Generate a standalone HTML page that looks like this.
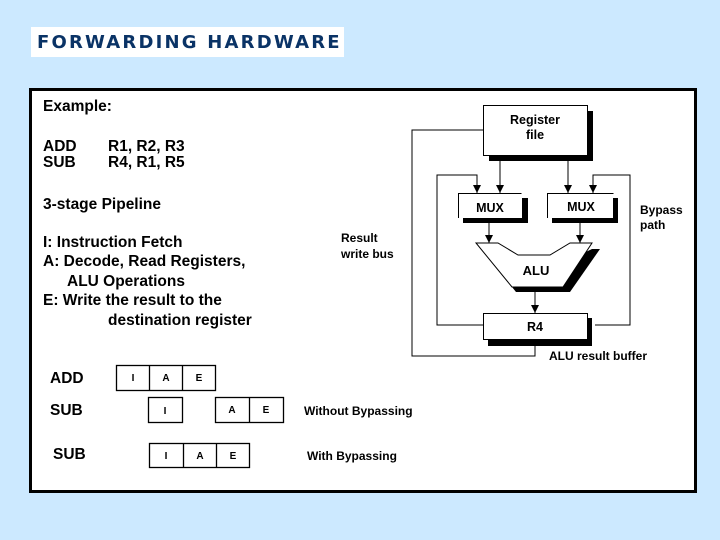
<!DOCTYPE html>
<html><head><style>
body{margin:0;width:720px;height:540px;background:#cce9ff;overflow:hidden;font-family:"Liberation Sans",Arial,sans-serif}
.title{position:absolute;left:31px;top:27px;width:313px;height:30px;background:#fff;font-family:"DejaVu Sans",sans-serif;font-weight:bold;font-size:18px;color:#0a3366;line-height:31px;padding-left:6px;box-sizing:border-box;letter-spacing:2.2px;white-space:nowrap}
</style></head><body>
<div class="title">FORWARDING HARDWARE</div>
<svg width="720" height="540" style="position:absolute;left:0;top:0" font-family="Liberation Sans, Arial, sans-serif">
<defs><marker id="a" markerWidth="8" markerHeight="8" refX="8" refY="4" orient="auto" markerUnits="userSpaceOnUse"><path d="M0,0 L8,4 L0,8 z" fill="#000"/></marker></defs>
<rect x="30.5" y="89.5" width="665" height="402" fill="#fff" stroke="#000" stroke-width="3"/>
<g font-weight="bold" font-size="15.5" fill="#000">
<text x="43" y="111">Example:</text>
<text x="43" y="151">ADD</text><text x="108" y="151">R1, R2, R3</text>
<text x="43" y="167">SUB</text><text x="108" y="167">R4, R1, R5</text>
<text x="43" y="209">3-stage Pipeline</text>
<text x="43" y="247">I:  Instruction Fetch</text>
<text x="43" y="266">A: Decode, Read Registers,</text>
<text x="67" y="286">ALU Operations</text>
<text x="43" y="305">E: Write the result to the</text>
<text x="108" y="325">destination register</text>
<text x="50" y="383">ADD</text><text x="50" y="415">SUB</text><text x="53" y="459">SUB</text>
</g>
<g font-weight="bold" font-size="12" fill="#000">
<text x="341" y="242">Result</text><text x="341" y="258">write bus</text>
<text x="640" y="214">Bypass</text><text x="640" y="229">path</text>
<text x="549" y="360">ALU result buffer</text>
<text x="304" y="415">Without Bypassing</text>
<text x="307" y="460">With Bypassing</text>
</g>
<g fill="none" stroke="#000" stroke-width="1">
<polyline points="483,130 412,130 412,356 535,356 535,340"/>
<polyline points="483,325 437,325 437,175 477,175 477,193" marker-end="url(#a)"/>
<polyline points="595,325 630,325 630,175 593,175 593,193" marker-end="url(#a)"/>
<line x1="500" y1="161" x2="500" y2="193" marker-end="url(#a)"/>
<line x1="568" y1="161" x2="568" y2="193" marker-end="url(#a)"/>
<line x1="489" y1="223" x2="489" y2="243" marker-end="url(#a)"/>
<line x1="580" y1="223" x2="580" y2="243" marker-end="url(#a)"/>
<line x1="535" y1="292" x2="535" y2="313" marker-end="url(#a)"/>
</g>
<rect x="489" y="111" width="104" height="50" fill="#000"/>
<rect x="483.5" y="105.5" width="104" height="50" fill="#fff" stroke="#000"/>
<text x="535" y="124" font-size="12.5" font-weight="bold" text-anchor="middle">Register</text>
<text x="535" y="139" font-size="12.5" font-weight="bold" text-anchor="middle">file</text>
<rect x="463" y="198" width="65" height="25" fill="#000"/>
<polyline points="458.5,218 458.5,193.5 521.5,193.5" fill="none" stroke="#000"/>
<rect x="459" y="194" width="63" height="24" fill="#fff"/>
<text x="490" y="212" font-size="12.5" font-weight="bold" text-anchor="middle">MUX</text>
<rect x="552" y="198" width="66" height="25" fill="#000"/>
<polyline points="547.5,218 547.5,193.5 613.5,193.5" fill="none" stroke="#000"/>
<rect x="548" y="194" width="65" height="24" fill="#fff"/>
<text x="581" y="211" font-size="12.5" font-weight="bold" text-anchor="middle">MUX</text>
<polygon points="592,249 600,249 570,292 516,292 512,287" fill="#000"/>
<polygon points="476,243 498,243 518,255 550,255 570,243 592,243 563,287 512,287" fill="#fff" stroke="#000"/>
<text x="536" y="275" font-size="13" font-weight="bold" text-anchor="middle">ALU</text>
<rect x="488" y="318" width="104" height="28" fill="#000"/>
<rect x="483.5" y="313.5" width="104" height="26" fill="#fff" stroke="#000"/>
<text x="535" y="331" font-size="12.5" font-weight="bold" text-anchor="middle">R4</text>
<g fill="#fff" stroke="#000" stroke-width="1.3">
<rect x="116.5" y="365.5" width="99" height="25"/><line x1="149.5" y1="365" x2="149.5" y2="391"/><line x1="182.5" y1="365" x2="182.5" y2="391"/>
<rect x="148.5" y="397.5" width="34" height="25"/>
<rect x="215.5" y="397.5" width="68" height="25"/><line x1="249.5" y1="397" x2="249.5" y2="423"/>
<rect x="149.5" y="443.5" width="100" height="24"/><line x1="183.5" y1="443" x2="183.5" y2="468"/><line x1="216.5" y1="443" x2="216.5" y2="468"/>
</g>
<g font-size="10" font-weight="bold" text-anchor="middle">
<text x="133" y="381">I</text><text x="166" y="381">A</text><text x="199" y="381">E</text>
<text x="165" y="414">I</text><text x="232" y="413">A</text><text x="266" y="413">E</text>
<text x="166" y="459">I</text><text x="200" y="459">A</text><text x="233" y="459">E</text>
</g>
</svg>
</body></html>
